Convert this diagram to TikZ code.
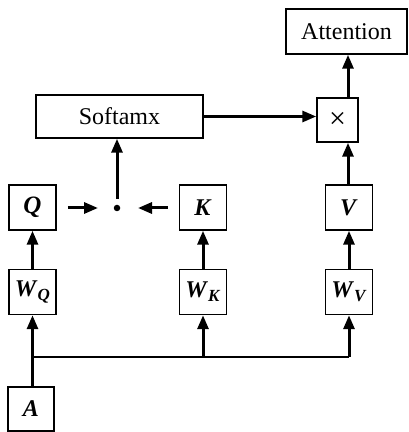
\documentclass[tikz,border=0pt]{standalone}
\usepackage{fontspec}
\setmainfont{Liberation Serif}
\usetikzlibrary{arrows.meta}
\newcommand{\bv}[1]{\textbf{\textit{#1}}}
\newcommand{\bsub}[2]{\bv{#1}\raisebox{-0.38ex}{\fontsize{17}{17}\selectfont\bv{#2}}}
\begin{document}
\begin{tikzpicture}[x=1pt,y=1pt,
  box/.style={draw, line width=1.5pt, minimum height=45pt, inner sep=0pt,
              font=\fontsize{24}{26}\selectfont},
  sq/.style={box, minimum width=47pt},
  conn/.style={line width=3pt, -{Triangle[length=14pt,width=11pt]}},
  bus/.style={line width=2pt}]
\useasboundingbox (0,0) rectangle (408,432);

% output side
\node[box, minimum width=121pt] (att) at (346.5,400.5) {Attention};
\node[box, minimum width=41pt, minimum height=44pt] (mul) at (337.5,312) {\fontsize{30}{30}\selectfont\symbol{"00D7}};
\node[box, minimum width=167pt, minimum height=43pt] (soft) at (119.5,315.5) {Softamx};

% projections
\node[sq] (Q) at (32.5,224.5) {\fontsize{25}{26}\selectfont\bv{Q}};
\node[sq] (K) at (203,224.5) {\bv{K}};
\node[sq] (V) at (349,224.5) {\bv{V}};
\node[sq] (WQ) at (32.5,140) {\bsub{W}{Q}};
\node[sq] (WK) at (203,140) {\bsub{W}{K}};
\node[sq] (WV) at (349,140) {\bsub{W}{V}};
\node[box, minimum width=46pt, minimum height=44pt] (A) at (31,23) {\bv{A}};

% dot product point
\node[circle, fill, inner sep=0pt, minimum size=6.5pt] (dot) at (117,224) {};
\coordinate (qs) at ([xshift=11pt]Q.east |- dot);
\coordinate (qe) at ([xshift=-19pt]dot.center);
\coordinate (ks) at ([xshift=-11pt]K.west |- dot);
\coordinate (ke) at ([xshift=21pt]dot.center);
\coordinate (ds) at ([yshift=9pt]dot.center);
\coordinate (bus) at (WQ.south |- 0,75);

% connectors
\draw[conn] (qs) -- (qe);
\draw[conn] (ks) -- (ke);
\draw[conn] (ds) -- (ds |- soft.south);
\draw[conn] (soft.east) -- (soft.east -| mul.west);
\draw[conn] (mul.north -| 348,0) -- (att.south -| 348,0);
\draw[conn] (V.north -| 348,0) -- (mul.south -| 348,0);
\draw[conn] (WQ) -- (Q);
\draw[conn] (WK) -- (K);
\draw[conn] (WV) -- (V);
\draw[line width=3pt] (A.north -| bus) -- (bus);
\draw[conn] (bus) -- (WQ.south);
\draw[bus] (bus) -- (bus -| WV.south);
\draw[conn] (bus -| WK.south) -- (WK.south);
\draw[conn] (bus -| WV.south) -- (WV.south);
\end{tikzpicture}
\end{document}
